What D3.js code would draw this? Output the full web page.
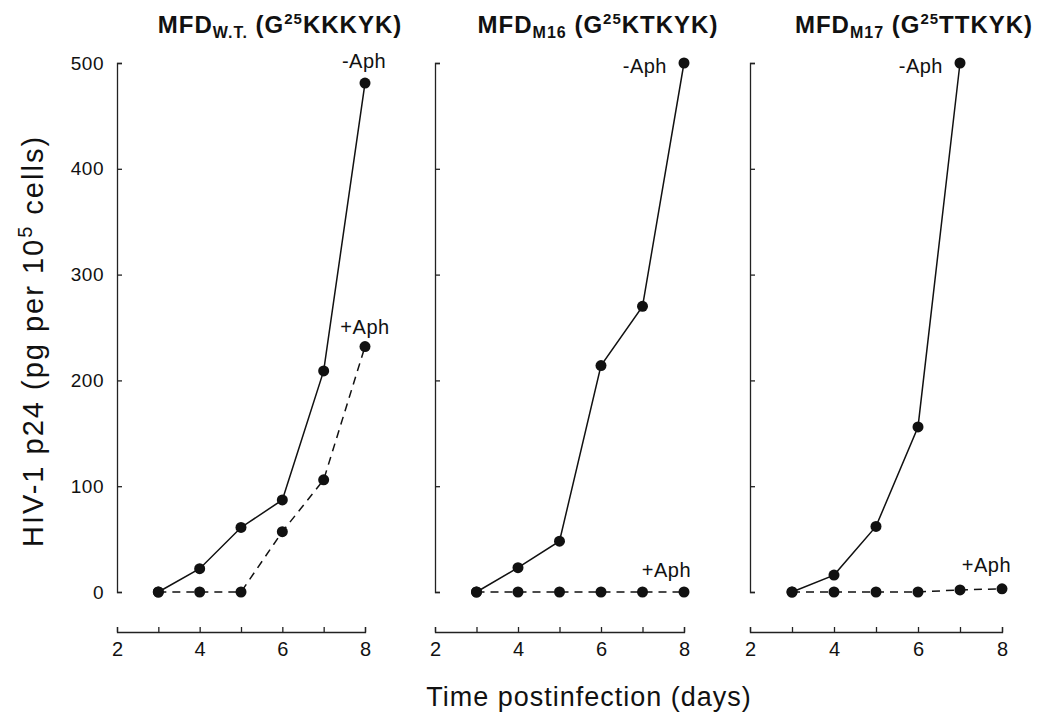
<!DOCTYPE html>
<html>
<head>
<meta charset="utf-8">
<script src="https://cdn.jsdelivr.net/npm/d3@7"></script>
<style>
  body { margin: 0; background: #fff; }
  svg text { font-family: "Liberation Sans", Arial, Helvetica, sans-serif; fill: #111; }
</style>
</head>
<body>
<svg id="chart" width="1050" height="725"></svg>
<script>
// ---- data ----
const days = [3, 4, 5, 6, 7, 8];
const xTicks = [2, 3, 4, 5, 6, 7, 8];
const xTickLabels = [2, 4, 6, 8];
const yTicks = [0, 100, 200, 300, 400, 500];

const titleMain = ["MFD", "MFD", "MFD"];
const titleSub = ["W.T.", "M16", "M17"];
const titleSeq = ["KKKYK)", "KTKYK)", "TTKYK)"];

// panel 1: MFD W.T.
const wtMinus = [0, 22, 61, 87, 209, 481];
const wtPlus = [0, 0, 0, 57, 106, 232];
// panel 2: MFD M16
const m16Minus = [0, 23, 48, 214, 270, 500];
const m16Plus = [0, 0, 0, 0, 0, 0];
// panel 3: MFD M17
const m17MinusDays = [3, 4, 5, 6, 7];
const m17Minus = [0, 16, 62, 156, 500];
const m17Plus = [0, 0, 0, 0, 2, 3];

const seriesLabels = ["-Aph", "+Aph"];

// ---- layout ----
const svg = d3.select("#chart");
const yTop = 63, yBot = 592, xAxisY = 632;
const panels = [
  { x0: 117, x1: 365, minusX: days, minus: wtMinus, plusX: days, plus: wtPlus,
    minusLab: { dx: -1, dy: -15, anchor: "middle" }, plusLab: { dx: 0, dy: -13, anchor: "middle" }, yLabels: true, cx: 280 },
  { x0: 435, x1: 684, minusX: days, minus: m16Minus, plusX: days, plus: m16Plus,
    minusLab: { dx: -17, dy: 10, anchor: "end" }, plusLab: { dx: 7, dy: -15, anchor: "end" }, yLabels: false, cx: 598 },
  { x0: 750, x1: 1002, minusX: m17MinusDays, minus: m17Minus, plusX: days, plus: m17Plus,
    minusLab: { dx: -17, dy: 10, anchor: "end" }, plusLab: { dx: 9, dy: -17, anchor: "end" }, yLabels: false, cx: 914 }
];

const y = d3.scaleLinear().domain([0, 500]).range([yBot, yTop]);

panels.forEach((p, i) => {
  const x = d3.scaleLinear().domain([2, 8]).range([p.x0, p.x1]);
  const g = svg.append("g");

  // y axis
  const yAxis = d3.axisLeft(y).tickValues(yTicks).tickSizeInner(-5).tickSizeOuter(-5)
    .tickPadding(13).tickFormat(p.yLabels ? d3.format("d") : () => "");
  const ya = g.append("g").attr("transform", `translate(${p.x0},0)`).call(yAxis);
  ya.selectAll("text").style("font-size", "19px").style("letter-spacing", "0.5px");
  ya.selectAll("path, line").attr("stroke", "#222").attr("stroke-width", 1.3);

  // x axis
  const xAxis = d3.axisBottom(x).tickValues(xTicks).tickSizeInner(-5).tickSizeOuter(-5)
    .tickPadding(10).tickFormat(d => xTickLabels.includes(d) ? d : "");
  const xa = g.append("g").attr("transform", `translate(0,${xAxisY})`).call(xAxis);
  xa.selectAll("text").style("font-size", "20px");
  xa.selectAll("path, line").attr("stroke", "#222").attr("stroke-width", 1.3);

  // lines
  const line = d3.line().x(d => x(d[0])).y(d => y(d[1]));
  const minusPts = p.minusX.map((d, k) => [d, p.minus[k]]);
  const plusPts = p.plusX.map((d, k) => [d, p.plus[k]]);

  g.append("path").datum(plusPts).attr("d", line).attr("fill", "none")
    .attr("stroke", "#111").attr("stroke-width", 1.5).attr("stroke-dasharray", "8,6");
  g.append("path").datum(minusPts).attr("d", line).attr("fill", "none")
    .attr("stroke", "#111").attr("stroke-width", 1.5);

  g.selectAll("circle.plus").data(plusPts).join("circle").attr("class", "plus")
    .attr("cx", d => x(d[0])).attr("cy", d => y(d[1])).attr("r", 5.5).attr("fill", "#111");
  g.selectAll("circle.minus").data(minusPts).join("circle").attr("class", "minus")
    .attr("cx", d => x(d[0])).attr("cy", d => y(d[1])).attr("r", 5.5).attr("fill", "#111");

  // series labels
  const mEnd = minusPts[minusPts.length - 1];
  g.append("text").attr("x", x(mEnd[0]) + p.minusLab.dx).attr("y", y(mEnd[1]) + p.minusLab.dy)
    .attr("text-anchor", p.minusLab.anchor).style("font-size", "20px").style("letter-spacing", "0.5px").text(seriesLabels[0]);
  const pEnd = plusPts[plusPts.length - 1];
  g.append("text").attr("x", x(pEnd[0]) + p.plusLab.dx).attr("y", y(pEnd[1]) + p.plusLab.dy)
    .attr("text-anchor", p.plusLab.anchor).style("font-size", "20px").style("letter-spacing", "0.5px").text(seriesLabels[1]);

  // title
  const t = svg.append("text").attr("x", p.cx).attr("y", 33).attr("text-anchor", "middle")
    .style("font-size", "24px").style("font-weight", "bold").style("letter-spacing", "1px");
  t.append("tspan").text(titleMain[i]);
  t.append("tspan").attr("dy", 5).style("font-size", "16px").text(titleSub[i]);
  t.append("tspan").attr("dy", -5).text(" (G");
  t.append("tspan").attr("dy", -9).style("font-size", "15px").text("25");
  t.append("tspan").attr("dy", 9).text(titleSeq[i]);
});

// axis titles
svg.append("text").attr("transform", `translate(43,341) rotate(-90)`)
  .attr("text-anchor", "middle").style("font-size", "29px").style("letter-spacing", "2px")
  .call(s => {
    s.append("tspan").text("HIV-1 p24 (pg per 10");
    s.append("tspan").attr("dy", -11).style("font-size", "20px").text("5");
    s.append("tspan").attr("dy", 11).text(" cells)");
  });

svg.append("text").attr("x", 589).attr("y", 706).attr("text-anchor", "middle")
  .style("font-size", "27px").style("letter-spacing", "1px").text("Time postinfection (days)");
</script>
</body>
</html>
